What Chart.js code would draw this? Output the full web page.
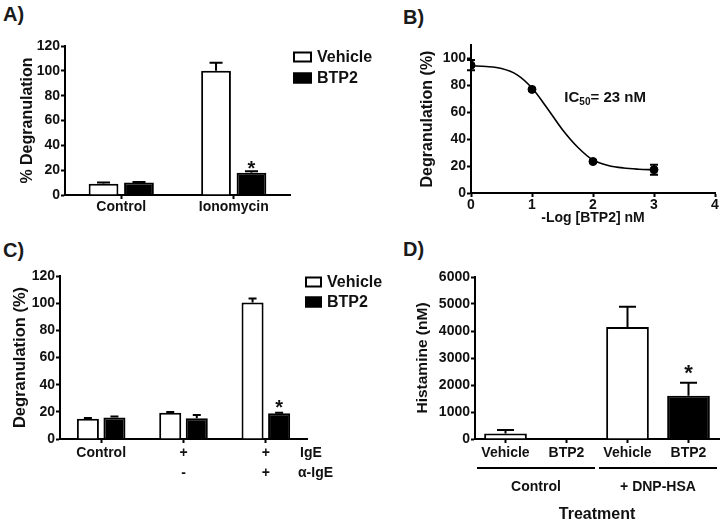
<!DOCTYPE html>
<html>
<head>
<meta charset="utf-8">
<script src="https://cdn.jsdelivr.net/npm/chart.js@4.4.1/dist/chart.umd.min.js"></script>
<style>
  html, body { margin: 0; padding: 0; background: #fff; overflow: hidden; }
  #wrap { position: relative; width: 723px; height: 520px; overflow: hidden; font-family: "Liberation Sans", Arial, sans-serif; }
  .panel { position: absolute; }
  .tag { position: absolute; font-weight: bold; font-size: 20px; line-height: 1; color: #1a1a1a; }
</style>
</head>
<body>
<div id="wrap">
  <div class="tag" style="left:3px;top:4px">A)</div>
  <div class="tag" style="left:403px;top:7px">B)</div>
  <div class="tag" style="left:3px;top:240px">C)</div>
  <div class="tag" style="left:403px;top:239px">D)</div>

  <div class="panel" style="left:0px;top:30px;width:380px;height:195px"><canvas id="chartA"></canvas></div>
  <div class="panel" style="left:400px;top:30px;width:323px;height:198px"><canvas id="chartB"></canvas></div>
  <div class="panel" style="left:0px;top:262px;width:390px;height:228px"><canvas id="chartC"></canvas></div>
  <div class="panel" style="left:400px;top:262px;width:323px;height:270px"><canvas id="chartD"></canvas></div>
</div>

<script>
// ---- data ----
// A) degranulation, ionomycin
const groupsA = ['Control', 'Ionomycin'];
const vehicleA = [9, 100];
const vehicleErrA = [1, 6.5];
const btp2A = [10, 18];
const btp2ErrA = [0.4, 1.2];
const btp2StarA = [false, true];

// B) dose response
const doseB = [0, 1, 2, 3];
const degranB = [95, 77, 23.4, 17.3];
const degranErrB = [3.8, 0.8, 1, 3.7];
const fitXB = [0, 0.25, 0.5, 0.75, 1, 1.25, 1.5, 1.75, 2, 2.25, 2.5, 2.75, 3];
const fitYB = [94.5, 94, 92.5, 88, 78, 63, 47, 34, 24.5, 20.5, 18.6, 17.7, 17.2];
const yTicksB = [0, 20, 40, 60, 80, 100];

// C) IgE / anti-IgE
const groupsC = [['Control', ''], ['+', '-'], ['+', '+']];
const rowLabelsC = ['IgE', 'α-IgE'];
const vehicleC = [15, 19.4, 100.5];
const vehicleErrC = [0.4, 0.5, 3];
const btp2C = [15.8, 15.2, 18.9];
const btp2ErrC = [0.7, 2.4, 0.4];
const btp2StarC = [false, false, true];

// D) histamine release
const treatD = ['Vehicle', 'BTP2', 'Vehicle', 'BTP2'];
const histD = [200, 0, 4150, 1600];
const histErrD = [130, 0, 750, 480];
const histStarD = [false, false, false, true];
const groupLabelsD = ['Control', '+ DNP-HSA'];
const groupSpansD = [[0, 1], [2, 3]];

// ---- shared styling ----
const ink = '#111111';
const FAM = '"Liberation Sans", Arial, sans-serif';
Chart.defaults.font.family = FAM;
Chart.defaults.color = ink;

function yAxis(min, max, step, title, width, titleSize, titlePad) {
  return {
    min: min, max: max,
    ticks: { stepSize: step, color: ink, font: { size: 14, weight: 'bold' }, padding: 1,
             callback: function(v) { return String(v); } },
    grid: { drawOnChartArea: false, drawTicks: true, tickLength: 4, tickWidth: 2, tickColor: '#000' },
    border: { display: true, color: '#000', width: 2 },
    title: { display: true, text: title, color: ink, font: { size: titleSize, weight: 'bold' }, padding: { top: titlePad, bottom: 0 } },
    afterFit: function(s) { s.width = width; }
  };
}

function xCat(height, pad, lineHeight) {
  return {
    offset: true,
    ticks: { color: ink, font: { size: 14, weight: 'bold', lineHeight: lineHeight || 1.2 }, padding: pad, maxRotation: 0, autoSkip: false },
    grid: { offset: false, drawOnChartArea: false, drawTicks: true, tickLength: 4, tickWidth: 2, tickColor: '#000' },
    border: { display: true, color: '#000', width: 2 },
    afterFit: function(s) { s.height = height; }
  };
}

// error bars + asterisks
const errorBars = {
  id: 'errorBars',
  afterDatasetsDraw(chart, args, opts) {
    const ctx = chart.ctx;
    const y = chart.scales.y;
    chart.data.datasets.forEach(function(ds, i) {
      if (!ds.errors) return;
      const meta = chart.getDatasetMeta(i);
      ctx.save();
      ctx.strokeStyle = '#000';
      ctx.lineWidth = 2;
      meta.data.forEach(function(el, j) {
        const v = ds.data[j];
        const val = (typeof v === 'object') ? v.y : v;
        const e = ds.errors[j];
        const cap = ds.capWidth || 8;
        const yTop = y.getPixelForValue(val + e);
        if (e) {
          const yBase = ds.errBoth ? y.getPixelForValue(val - e) : y.getPixelForValue(val);
          ctx.beginPath();
          ctx.moveTo(el.x, yBase);
          ctx.lineTo(el.x, yTop);
          ctx.moveTo(el.x - cap / 2, yTop);
          ctx.lineTo(el.x + cap / 2, yTop);
          if (ds.errBoth) {
            ctx.moveTo(el.x - cap / 2, yBase);
            ctx.lineTo(el.x + cap / 2, yBase);
          }
          ctx.stroke();
        }
        if (ds.stars && ds.stars[j]) {
          const size = opts.starSize || 20;
          ctx.fillStyle = ink;
          ctx.font = 'bold ' + size + 'px ' + FAM;
          ctx.textAlign = 'center';
          ctx.textBaseline = 'alphabetic';
          ctx.fillText('*', el.x, yTop - (opts.starGap || 10) + 0.57 * size);
        }
      });
      ctx.restore();
    });
  }
};

// box legend at the right of the plot
const boxLegend = {
  id: 'boxLegend',
  afterDraw(chart, args, opts) {
    if (!opts.show) return;
    const ctx = chart.ctx, a = chart.chartArea;
    ctx.save();
    chart.data.datasets.forEach(function(ds, i) {
      const x = a.right + opts.dx;
      const y = a.top + opts.dy + i * opts.gap;
      ctx.fillStyle = ds.backgroundColor;
      ctx.fillRect(x, y - opts.boxH / 2, opts.boxW, opts.boxH);
      ctx.lineWidth = 2;
      ctx.strokeStyle = '#000';
      ctx.strokeRect(x + 1, y - opts.boxH / 2 + 1, opts.boxW - 2, opts.boxH - 2);
      ctx.fillStyle = ink;
      ctx.font = 'bold 16px ' + FAM;
      ctx.textAlign = 'left';
      ctx.textBaseline = 'middle';
      ctx.fillText(ds.label, x + opts.boxW + 5, y + 1);
    });
    ctx.restore();
  }
};

// extra text: row labels (C), group lines (D), IC50 note (B)
const extras = {
  id: 'extras',
  afterDraw(chart, args, opts) {
    const ctx = chart.ctx, a = chart.chartArea, x = chart.scales.x;
    ctx.save();
    ctx.fillStyle = ink;
    ctx.strokeStyle = '#000';
    if (opts.rows) {
      ctx.font = 'bold 14px ' + FAM;
      ctx.textAlign = 'left';
      ctx.textBaseline = 'middle';
      opts.rows.forEach(function(t, i) {
        ctx.fillText(t, a.right + opts.rowDx[i], x.top + 14 + i * 20);
      });
    }
    if (opts.groups) {
      const w = x.getPixelForValue(1) - x.getPixelForValue(0);
      ctx.lineWidth = 2;
      ctx.font = 'bold 14px ' + FAM;
      ctx.textAlign = 'center';
      ctx.textBaseline = 'middle';
      opts.groups.forEach(function(g, i) {
        const s = opts.spans[i];
        const x0 = x.getPixelForValue(s[0]) - w / 2 + 2;
        const x1 = x.getPixelForValue(s[1]) + w / 2 - 2;
        ctx.beginPath();
        ctx.moveTo(x0, x.top + 29);
        ctx.lineTo(x1, x.top + 29);
        ctx.stroke();
        ctx.fillText(g, (x0 + x1) / 2, x.top + 48);
      });
    }
    if (opts.note) {
      const y = chart.scales.y;
      const px = x.getPixelForValue(opts.note.x), py = y.getPixelForValue(opts.note.y);
      ctx.textAlign = 'left';
      ctx.textBaseline = 'middle';
      ctx.font = 'bold 15px ' + FAM;
      ctx.fillText('IC', px, py);
      let w = ctx.measureText('IC').width;
      ctx.font = 'bold 10px ' + FAM;
      ctx.fillText('50', px + w, py + 5);
      w += ctx.measureText('50').width;
      ctx.font = 'bold 15px ' + FAM;
      ctx.fillText('= 23 nM', px + w, py);
    }
    ctx.restore();
  }
};

const base = {
  responsive: true,
  maintainAspectRatio: false,
  animation: false,
  events: []
};

// ---- A ----
new Chart(document.getElementById('chartA'), {
  type: 'bar',
  data: {
    labels: groupsA,
    datasets: [
      { label: 'Vehicle', data: vehicleA, errors: vehicleErrA, capWidth: 13, backgroundColor: '#ffffff', borderColor: '#000', borderWidth: 2, categoryPercentage: 0.63, barPercentage: 0.84 },
      { label: 'BTP2', data: btp2A, errors: btp2ErrA, stars: btp2StarA, capWidth: 13, backgroundColor: '#000000', borderColor: '#000', borderWidth: 2, categoryPercentage: 0.63, barPercentage: 0.84 }
    ]
  },
  options: Object.assign({}, base, {
    layout: { padding: { top: 16, right: 90, left: 0, bottom: 0 } },
    scales: { x: xCat(30, 0), y: yAxis(0, 120, 20, '% Degranulation', 65, 16, 18) },
    plugins: {
      legend: { display: false }, tooltip: { enabled: false },
      errorBars: { starGap: 8, starSize: 20 },
      boxLegend: { show: true, dx: 3, dy: 11, gap: 21, boxW: 19, boxH: 11 }
    }
  }),
  plugins: [errorBars, boxLegend]
});

// ---- B ----
const yB = yAxis(0, 110, 20, 'Degranulation (%)', 71, 16, 18);
yB.afterBuildTicks = function(s) { s.ticks = yTicksB.map(function(v) { return { value: v }; }); };
new Chart(document.getElementById('chartB'), {
  type: 'scatter',
  data: {
    datasets: [
      { type: 'line', label: 'fit', data: fitXB.map(function(v, i) { return { x: v, y: fitYB[i] }; }), borderColor: '#000', borderWidth: 1.6, pointRadius: 0, cubicInterpolationMode: 'monotone', fill: false, order: 2 },
      { label: 'BTP2', data: doseB.map(function(v, i) { return { x: v, y: degranB[i] }; }), errors: degranErrB, errBoth: true, capWidth: 8, backgroundColor: '#000', borderColor: '#000', pointRadius: 4, order: 1 }
    ]
  },
  options: Object.assign({}, base, {
    layout: { padding: { top: 15, right: 8, left: 0, bottom: 0 } },
    scales: {
      x: {
        type: 'linear', min: 0, max: 4,
        ticks: { stepSize: 1, color: ink, font: { size: 14, weight: 'bold' }, padding: 0 },
        grid: { drawOnChartArea: false, drawTicks: true, tickLength: 4, tickWidth: 2, tickColor: '#000' },
        border: { display: true, color: '#000', width: 2 },
        title: { display: true, text: '-Log [BTP2] nM', color: ink, font: { size: 14, weight: 'bold' }, padding: { top: 0, bottom: 1 } },
        afterFit: function(s) { s.height = 35; }
      },
      y: yB
    },
    plugins: {
      legend: { display: false }, tooltip: { enabled: false },
      extras: { note: { x: 1.53, y: 71 } }
    }
  }),
  plugins: [errorBars, extras]
});

// ---- C ----
new Chart(document.getElementById('chartC'), {
  type: 'bar',
  data: {
    labels: groupsC,
    datasets: [
      { label: 'Vehicle', data: vehicleC, errors: vehicleErrC, capWidth: 8, backgroundColor: '#ffffff', borderColor: '#000', borderWidth: 2, categoryPercentage: 0.645, barPercentage: 0.83 },
      { label: 'BTP2', data: btp2C, errors: btp2ErrC, stars: btp2StarC, capWidth: 8, backgroundColor: '#000000', borderColor: '#000', borderWidth: 2, categoryPercentage: 0.645, barPercentage: 0.83 }
    ]
  },
  options: Object.assign({}, base, {
    layout: { padding: { top: 14, right: 83, left: 0, bottom: 0 } },
    scales: { x: xCat(51, 0, 1.43), y: yAxis(0, 120, 20, 'Degranulation (%)', 60, 16.5, 11) },
    plugins: {
      legend: { display: false }, tooltip: { enabled: false },
      errorBars: { starGap: 10, starSize: 20 },
      boxLegend: { show: true, dx: -2, dy: 6, gap: 20, boxW: 17, boxH: 11 },
      extras: { rows: rowLabelsC, rowDx: [-7, -9] }
    }
  }),
  plugins: [errorBars, boxLegend, extras]
});

// ---- D ----
const xD = xCat(93, 2);
xD.title = { display: true, text: 'Treatment', color: ink, font: { size: 16, weight: 'bold' }, padding: { top: 0, bottom: 8 } };
new Chart(document.getElementById('chartD'), {
  type: 'bar',
  data: {
    labels: treatD,
    datasets: [
      { label: 'Histamine', data: histD, errors: histErrD, stars: histStarD, capWidth: 17, backgroundColor: ['#ffffff', '#ffffff', '#ffffff', '#000000'], borderColor: '#000', borderWidth: 2, categoryPercentage: 1, barPercentage: 0.7 }
    ]
  },
  options: Object.assign({}, base, {
    layout: { padding: { top: 15, right: 4, left: 0, bottom: 0 } },
    scales: { x: xD, y: yAxis(0, 6000, 1000, 'Histamine (nM)', 75, 15.5, 13) },
    plugins: {
      legend: { display: false }, tooltip: { enabled: false },
      errorBars: { starGap: 15, starSize: 22 },
      extras: { groups: groupLabelsD, spans: groupSpansD }
    }
  }),
  plugins: [errorBars, extras]
});
</script>
</body>
</html>
